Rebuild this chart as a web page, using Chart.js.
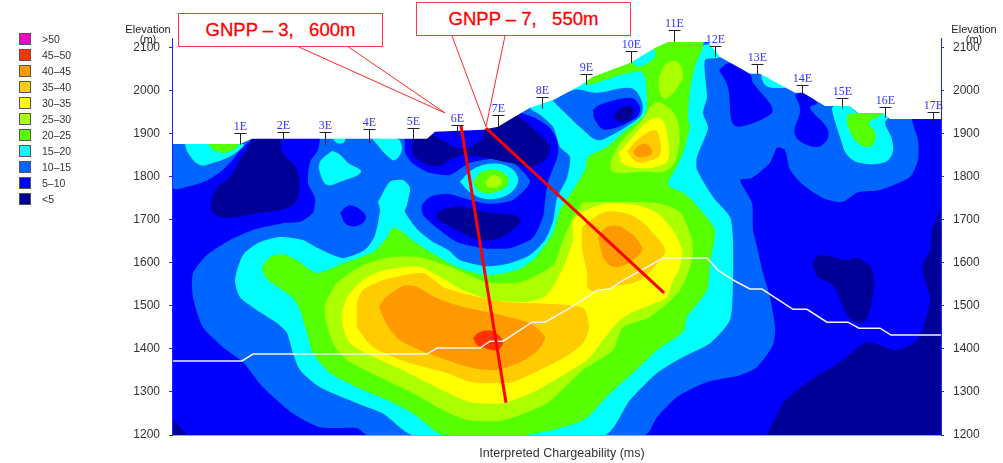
<!DOCTYPE html>
<html>
<head>
<meta charset="utf-8">
<title>Interpreted Chargeability</title>
<script src="https://cdn.jsdelivr.net/npm/chart.js@4"></script>
<style>
  html, body { margin: 0; background: #fff; }
  #wrap { position: relative; width: 1003px; height: 463px; overflow: hidden; font-family: "Liberation Sans", Arial, sans-serif; }
  canvas { position: absolute; left: 0; top: 0; }
  .callout { position: absolute; box-sizing: border-box; background: #fff; border: 1.5px solid #ff3b3b; color: #ff0000;
             font-size: 18.5px; text-align: center; line-height: 32px; white-space: pre; -webkit-text-stroke: 0.3px #ff0000; }
  .axis-note { position: absolute; font-size: 11px; color: #222; text-align: center; line-height: 10px; }
  #xtitle { position: absolute; left: 462px; width: 200px; top: 446px; font-size: 12.5px; color: #333; text-align: center; white-space: pre; }
  #legend { position: absolute; left: 19px; top: 33px; }
  .row { height: 16px; display: flex; align-items: flex-start; font-size: 10.5px; color: #333; }
  .swatch { width: 12px; height: 12px; box-sizing: border-box; border: 1px solid #555; margin-right: 11px; }
  .row span { line-height: 13px; }
</style>
</head>
<body>
<div id="wrap">
  <canvas id="section" width="1003" height="463"></canvas>
  <div id="legend"></div>
  <div class="axis-note" style="left:120px;width:56px;top:24px">Elevation<br>(m)</div>
  <div class="axis-note" style="left:946px;width:56px;top:24px">Elevation<br>(m)</div>
  <div class="callout" style="left:178px;top:13px;width:205px;height:34px">GNPP – 3,   600m</div>
  <div class="callout" style="left:416px;top:2px;width:215px;height:34px">GNPP – 7,   550m</div>
  <div id="xtitle">Interpreted Chargeability (ms)</div>
</div>
<script>
// legend
const legendLabels = ['>50', '45–50', '40–45', '35–40', '30–35', '25–30', '20–25', '15–20', '10–15', '5–10', '<5'];
const legendColors = ['#ff00cc', '#ff3300', '#ff9900', '#ffcc00', '#ffff00', '#aaff00', '#55ff00', '#00ffff', '#0066ff', '#0000ff', '#000099'];

// axis
const elevTicks = [1200, 1300, 1400, 1500, 1600, 1700, 1800, 1900, 2000, 2100];
const distMin = 172, distMax = 941, elevMin = 1200, elevMax = 2122;

// stations along the profile: position, foot and top of the marker (elevation)
const stationNames = ['1E','2E','3E','4E','5E','6E','7E','8E','9E','10E','11E','12E','13E','14E','15E','16E','17E'];
const stationDist = [240, 283, 325, 369, 413, 457, 498, 542, 586, 631, 674, 715, 757, 802, 842, 885, 933];
const stationFoot = [1874, 1878, 1874, 1878, 1888, 1892, 1916, 1958, 2013, 2064, 2113, 2078, 2037, 1990, 1958, 1937, 1925];
const stationTop = [1902, 1904, 1904, 1911, 1913, 1920, 1944, 1985, 2039, 2092, 2141, 2104, 2062, 2013, 1983, 1962, 1950];

// ground surface, everything above it is left white
const surface = [[172,1876],[240,1876],[252,1888],[427,1888],[435,1904],[483,1909],[498,1916],[513,1937],[530,1960],[553,1978],[580,2011],[593,2032],[630,2064],[655,2099],[668,2113],[708,2113],[720,2078],[750,2039],[760,2039],[795,1995],[803,1995],[825,1964],[850,1964],[858,1948],[883,1948],[890,1934],[941,1934],[941,2122],[172,2122]];

// white depth line
const depthLine = [[172,1372],[242,1372],[253,1388],[427,1388],[437,1402],[480,1402],[490,1418],[503,1418],[532,1462],[545,1462],[570,1495],[598,1537],[610,1539],[620,1555],[663,1611],[707,1611],[718,1583],[733,1560],[750,1539],[762,1539],[793,1492],[807,1492],[827,1462],[848,1462],[859,1448],[880,1448],[891,1432],[941,1432]];

// drill holes and callout leaders
const holeGnpp3 = [[461,1918],[506,1275]];
const holeGnpp7 = [[486,1913],[664,1530]];
const leaderGnpp3 = [[298,2102],[445,1948],[348,2102]];
const leaderGnpp7 = [[452,2127],[486,1916],[505,2127]];

// contours, read from the section as [position, elevation]
const base5to10 = [[172,1200],[941,1200],[941,2122],[172,2122]];

const topLeft10 = [[172,1876],[250,1888],[240,1862],[230,1832],[213,1799],[190,1778],[172,1776]];
const main10 = [[320,1888],[318,1862],[310,1834],[308,1785],[315,1750],[313,1716],[300,1695],[283,1692],[260,1681],[253,1676],[230,1653],[207,1618],[193,1576],[193,1520],[203,1450],[223,1404],[243,1369],[263,1311],[293,1250],[320,1218],[357,1216],[367,1200],[645,1200],[657,1241],[677,1288],[707,1323],[740,1339],[757,1358],[773,1409],[775,1450],[770,1520],[763,1576],[757,1637],[753,1676],[752,1739],[740,1792],[752,1797],[770,1832],[777,1867],[785,1862],[790,1816],[803,1781],[823,1750],[842,1741],[858,1764],[880,1769],[910,1799],[918,1839],[918,1885],[912,1934],[912,2120],[320,2120]];
const topLeft15 = [[185,1876],[188,1855],[200,1827],[213,1832],[233,1851],[243,1876]];
const topLeft20 = [[208,1876],[217,1858],[230,1858],[238,1876]];
const blob3E15 = [[332,1860],[320,1834],[320,1809],[327,1781],[340,1788],[361,1811],[348,1832],[340,1851]];
const top3E15 = [[333,1888],[337,1878],[343,1878],[345,1888]];
const top4E15 = [[372,1888],[392,1839],[398,1844],[402,1867],[397,1888]];
const island4E5 = [[340,1716],[348,1732],[358,1727],[366,1706],[360,1688],[347,1688]];

const main15 = [[378,1741],[390,1788],[403,1792],[410,1774],[407,1734],[405,1718],[418,1676],[433,1648],[448,1630],[460,1606],[487,1592],[510,1599],[530,1618],[545,1653],[553,1695],[557,1750],[567,1797],[570,1846],[560,1869],[553,1916],[540,1944],[530,1960],[530,2002],[720,2113],[720,2078],[705,2071],[707,1985],[703,1948],[708,1913],[697,1846],[697,1816],[713,1753],[730,1706],[733,1653],[733,1560],[730,1467],[710,1413],[683,1381],[657,1344],[630,1281],[605,1200],[413,1200],[383,1250],[357,1274],[320,1311],[300,1351],[293,1390],[287,1437],[277,1460],[257,1490],[240,1520],[235,1560],[243,1618],[260,1648],[280,1660],[303,1653],[318,1634],[343,1611],[365,1630],[375,1664],[380,1723]];
const main20 = [[585,2025],[588,2013],[617,2034],[640,2044],[645,2032],[647,1962],[643,1939],[623,1902],[607,1869],[588,1846],[585,1816],[573,1769],[560,1723],[553,1669],[535,1611],[517,1583],[487,1571],[457,1590],[427,1630],[412,1653],[403,1671],[393,1681],[385,1653],[373,1625],[343,1599],[317,1576],[297,1606],[283,1620],[270,1613],[262,1588],[268,1560],[280,1541],[293,1518],[300,1490],[307,1437],[313,1390],[330,1344],[357,1311],[387,1281],[413,1250],[443,1200],[527,1200],[583,1234],[610,1297],[633,1344],[657,1397],[683,1439],[687,1474],[707,1536],[710,1599],[715,1676],[703,1716],[687,1757],[668,1781],[675,1816],[683,1855],[690,1916],[688,1932],[690,2002],[695,2055],[703,2102],[703,2120],[585,2120]];
const patch10E15 = [[632,2064],[650,2099],[656,2083],[640,2055]];

// hole under 7E-8E
const hole5 = [[405,1899],[405,1858],[412,1832],[427,1811],[450,1804],[470,1832],[493,1841],[513,1832],[530,1788],[513,1746],[490,1737],[470,1746],[447,1760],[430,1753],[422,1734],[423,1711],[437,1681],[457,1648],[483,1634],[510,1634],[533,1658],[543,1706],[545,1741],[548,1788],[558,1851],[557,1885],[550,1913],[535,1937],[520,1951],[520,1990],[405,1990]];
const hole7Enavy = [[412,1892],[413,1851],[427,1827],[440,1825],[450,1839],[463,1851],[480,1846],[510,1832],[533,1823],[547,1844],[550,1874],[540,1897],[527,1925],[515,1944],[485,1913],[483,1890],[470,1869],[455,1867],[445,1881],[430,1899],[425,1892]];
const lowNavy = [[437,1716],[447,1727],[463,1730],[490,1716],[513,1711],[521,1699],[515,1681],[500,1658],[483,1651],[467,1664],[447,1688],[438,1699]];

// small anomaly below 6E-7E
const anomaly15 = [[460,1788],[472,1816],[490,1830],[507,1825],[517,1804],[517,1781],[507,1757],[487,1748],[470,1764]];
const anomaly20 = [[473,1788],[482,1811],[497,1816],[508,1797],[505,1774],[490,1762],[478,1769]];
const anomaly25 = [[485,1788],[493,1804],[502,1792],[498,1776],[488,1776]];

// 9E-10E low
const low9E10 = [[553,1978],[575,2002],[597,1995],[630,2006],[640,1985],[642,1948],[632,1925],[608,1892],[597,1885],[583,1909],[567,1944],[555,1971]];
const low9E5 = [[593,1955],[600,1967],[630,1983],[638,1971],[640,1951],[633,1932],[605,1909],[595,1932]];
const low9Enavy = [[612,1939],[623,1962],[633,1960],[632,1937],[620,1927]];

// upper ridge at 11E
const ridge25 = [[659,2030],[665,2060],[677,2067],[683,2037],[677,2006],[665,1981],[659,2002]];

// main anomaly, outer to inner
const main25 = [[325,1506],[337,1553],[363,1595],[390,1613],[420,1613],[453,1588],[487,1555],[520,1555],[553,1595],[563,1653],[573,1704],[583,1739],[598,1741],[657,1739],[680,1718],[692,1653],[692,1606],[680,1537],[650,1474],[623,1450],[613,1397],[583,1351],[547,1274],[503,1234],[470,1234],[447,1253],[413,1297],[380,1334],[347,1374],[333,1413],[325,1474]];
const main30 = [[342,1483],[347,1520],[363,1560],[385,1583],[420,1590],[440,1567],[463,1537],[493,1513],[527,1509],[547,1525],[563,1588],[573,1653],[573,1699],[582,1718],[607,1739],[637,1734],[657,1716],[673,1676],[682,1630],[680,1590],[672,1553],[667,1520],[630,1483],[617,1460],[603,1420],[587,1374],[537,1304],[503,1274],[470,1276],[447,1299],[407,1346],[370,1385],[350,1413],[343,1450]];
const main35a = [[357,1467],[357,1506],[363,1537],[383,1560],[423,1576],[443,1544],[470,1525],[503,1509],[537,1506],[583,1495],[589,1450],[583,1413],[563,1378],[513,1323],[490,1320],[470,1323],[447,1344],[407,1369],[373,1404],[357,1450]];
const main35b = [[582,1683],[603,1716],[623,1716],[640,1699],[653,1669],[665,1630],[660,1606],[640,1560],[620,1548],[590,1537],[587,1576],[582,1637]];
const main40a = [[379,1497],[385,1518],[403,1546],[417,1544],[437,1518],[463,1497],[493,1483],[530,1460],[545,1427],[538,1397],[520,1369],[497,1351],[473,1355],[447,1374],[420,1397],[400,1420],[387,1455]];
const main40b = [[598,1660],[607,1683],[623,1681],[642,1637],[637,1613],[617,1590],[605,1606]];
const main45 = [[473,1425],[480,1439],[493,1441],[503,1416],[497,1397],[485,1402],[477,1409]];

// anomaly near 10E
const peak25 = [[610,1832],[620,1878],[640,1925],[655,1971],[668,1962],[678,1927],[678,1862],[668,1816],[640,1811],[613,1811]];
const peak30 = [[619,1855],[630,1885],[650,1932],[662,1932],[668,1885],[668,1839],[657,1823],[637,1820],[622,1832]];
const peak35 = [[627,1858],[637,1885],[655,1908],[660,1885],[660,1851],[650,1837],[637,1834]];
const peak40 = [[633,1858],[640,1874],[648,1874],[652,1855],[645,1846],[637,1846]];

// right-hand side
const low13E5 = [[719,2048],[730,2064],[750,2037],[753,2018],[772,1962],[770,1944],[740,1916],[732,1927],[728,2006]];
const low14E5 = [[795,1990],[802,1995],[817,1971],[810,1960],[827,1913],[827,1885],[815,1869],[795,1897],[800,1955]];
const top13E15 = [[760,2048],[765,2013],[780,2006],[790,2013],[780,2048]];
const lobe15E15 = [[833,1944],[833,1962],[850,1964],[858,1948],[883,1948],[888,1937],[885,1925],[892,1885],[892,1851],[883,1832],[860,1832],[847,1851],[840,1892]];
const lobe15E20 = [[847,1944],[848,1916],[858,1878],[870,1869],[875,1885],[875,1904],[869,1925],[882,1946],[858,1948]];
const lowRight15E = [[812,1599],[820,1618],[847,1606],[858,1611],[873,1578],[870,1490],[862,1460],[850,1471],[840,1513],[833,1548],[818,1567]];
const lowRightNavy = [[767,1200],[783,1274],[810,1327],[840,1369],[867,1416],[897,1397],[917,1420],[928,1490],[930,1520],[922,1588],[930,1630],[932,1676],[937,1706],[941,1727],[941,1200]];
const cornerNavy = [[172,1241],[187,1200],[172,1200]];
const navy2E5 = [[252,1888],[278,1888],[283,1855],[297,1816],[298,1753],[287,1727],[260,1716],[227,1704],[213,1716],[211,1739],[217,1774],[230,1799],[240,1839],[248,1869]];

// paint order, bottom to top
const NAVY = '#000099', C5 = '#0000ff', C10 = '#0066ff', C15 = '#00ffff', C20 = '#55ff00', C25 = '#aaff00', C30 = '#ffff00', C35 = '#ffcc00', C40 = '#ff9900', C45 = '#ff3300';
const layers = [
  [base5to10, C5, 0], [cornerNavy, NAVY, 0], [lowRightNavy, NAVY], [lowRight15E, NAVY],
  [topLeft10, C10], [main10, C10], [navy2E5, NAVY], [topLeft15, C15], [topLeft20, C20],
  [blob3E15, C15], [top3E15, C15], [top4E15, C15], [island4E5, C5],
  [main15, C15], [main20, C20], [patch10E15, C15],
  [hole5, C5], [hole7Enavy, NAVY], [lowNavy, NAVY],
  [anomaly15, C15], [anomaly20, C20], [anomaly25, C25],
  [low9E10, C10], [low9E5, C5], [low9Enavy, NAVY], [ridge25, C25],
  [main25, C25], [main30, C30], [main35a, C35], [main35b, C35], [main40a, C40], [main40b, C40], [main45, C45],
  [peak25, C25], [peak30, C30], [peak35, C35], [peak40, C40],
  [low13E5, C5], [low14E5, C5], [top13E15, C15], [lobe15E15, C15], [lobe15E20, C20]
];

function toPoints(pairs) {
  return pairs.map(p => ({ x: p[0], y: p[1] }));
}

// small closed blobs get rounder curves than the long contours
function curveFor(layer) {
  if (layer[2] === 0) return 0;
  return layer[0].length <= 14 ? 0.4 : 0.22;
}

const datasets = layers.map(l => ({
  data: toPoints(l[0].concat([l[0][0]])),
  showLine: true,
  fill: 'shape',
  backgroundColor: l[1],
  borderWidth: 0,
  pointRadius: 0,
  tension: curveFor(l)
}));

datasets.push({ data: toPoints(surface.concat([surface[0]])), showLine: true, fill: 'shape', backgroundColor: '#ffffff', borderWidth: 0, pointRadius: 0, tension: 0 });

function lineSet(pairs, color, width) {
  return { data: toPoints(pairs), showLine: true, fill: false, borderColor: color, borderWidth: width, pointRadius: 0, tension: 0, clip: false };
}
datasets.push(lineSet(depthLine, '#f4f4f4', 1.5));
datasets.push(lineSet(leaderGnpp3, '#ff2a2a', 1));
datasets.push(lineSet(leaderGnpp7, '#ff2a2a', 1));
datasets.push(lineSet(holeGnpp3, '#ff0000', 3));
datasets.push(lineSet(holeGnpp7, '#ff0000', 3));

// later datasets on top
datasets.forEach((d, i) => { d.order = datasets.length - i; });

// T markers and station names
const stationPlugin = {
  id: 'stations',
  afterDatasetsDraw(chart) {
    const ctx = chart.ctx, xs = chart.scales.x, ys = chart.scales.y;
    ctx.save();
    ctx.lineWidth = 1;
    ctx.font = '12px "Liberation Serif", serif';
    ctx.textAlign = 'center';
    ctx.textBaseline = 'middle';
    stationNames.forEach((name, i) => {
      const px = Math.round(xs.getPixelForValue(stationDist[i])) + 0.5;
      const top = Math.round(ys.getPixelForValue(stationTop[i])) + 0.5;
      const foot = ys.getPixelForValue(stationFoot[i]);
      ctx.strokeStyle = '#222';
      ctx.beginPath();
      ctx.moveTo(px - 6, top);
      ctx.lineTo(px + 6, top);
      ctx.moveTo(px, top);
      ctx.lineTo(px, foot);
      ctx.stroke();
      ctx.fillStyle = '#3333ff';
      ctx.fillText(name, px, top - 7);
    });
    ctx.restore();
  }
};

function yScale(position, width) {
  return {
    type: 'linear',
    position: position,
    min: elevMin,
    max: elevMax,
    afterBuildTicks: scale => { scale.ticks = elevTicks.map(v => ({ value: v })); },
    afterFit: scale => { scale.width = width; },
    grid: { drawOnChartArea: false, drawTicks: true, tickLength: 3, color: '#2222ff' },
    border: { color: '#2222ff', width: 1, z: 1 },
    ticks: {
      color: '#333',
      padding: 9,
      autoSkip: false,
      font: { family: '"Liberation Sans", Arial, sans-serif', size: 12 },
      callback: v => String(v)
    }
  };
}

new Chart(document.getElementById('section'), {
  type: 'scatter',
  data: { datasets: datasets },
  plugins: [stationPlugin],
  options: {
    responsive: false,
    animation: false,
    devicePixelRatio: 1,
    layout: { padding: { top: 38 } },
    plugins: { legend: { display: false }, tooltip: { enabled: false } },
    events: [],
    scales: {
      x: {
        type: 'linear',
        min: distMin,
        max: distMax,
        afterFit: scale => { scale.height = 28; },
        grid: { display: false },
        border: { color: '#9999ff', width: 1, z: 1 },
        ticks: { display: false }
      },
      y: yScale('left', 172),
      y2: yScale('right', 62)
    }
  }
});

// legend rows
const legend = document.getElementById('legend');
legendLabels.forEach((label, i) => {
  const row = document.createElement('div');
  row.className = 'row';
  const swatch = document.createElement('div');
  swatch.className = 'swatch';
  swatch.style.background = legendColors[i];
  const text = document.createElement('span');
  text.textContent = label;
  row.appendChild(swatch);
  row.appendChild(text);
  legend.appendChild(row);
});
</script>
</body>
</html>
